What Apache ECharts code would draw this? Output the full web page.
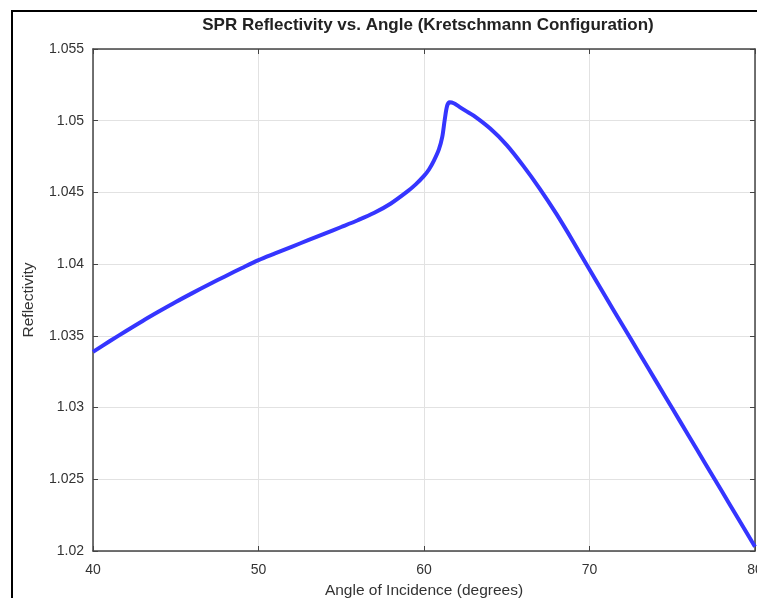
<!DOCTYPE html>
<html>
<head>
<meta charset="utf-8">
<style>
  html, body { margin: 0; padding: 0; background: #fff; }
  #chart { width: 757px; height: 598px; }
</style>
<script src="https://cdn.jsdelivr.net/npm/echarts@6/dist/echarts.min.js"></script>
</head>
<body>
<div id="chart"></div>
<script>
  // angle of incidence (degrees)
  const angles = [
    40, 41, 42, 43, 44, 45, 46, 47, 48, 49,
    50, 51, 52, 53, 54, 55, 56, 57, 58, 59,
    59.5, 60, 60.3, 60.6, 60.9, 61.1, 61.25, 61.4, 61.55, 61.8,
    62.1, 62.5, 63, 64, 65, 66, 67, 68, 69, 70,
    71, 72, 73, 74, 75, 76, 77, 78, 79, 80
  ];
  // reflectivity
  const reflectivity = [
    1.03388, 1.03462, 1.03534, 1.03604, 1.03671, 1.03736, 1.03798, 1.03858, 1.03916, 1.03973,
    1.04028, 1.04075, 1.04121, 1.04167, 1.04213, 1.04259, 1.04306, 1.04358, 1.04423, 1.04507,
    1.04556, 1.04615, 1.04660, 1.04722, 1.04800, 1.04885, 1.05005, 1.05105, 1.05128, 1.05122,
    1.05100, 1.05070, 1.05035, 1.04945, 1.04830, 1.04685, 1.04525, 1.04350, 1.04160, 1.03962,
    1.03767, 1.03574, 1.03381, 1.03188, 1.02995, 1.02802, 1.02609, 1.02416, 1.02223, 1.02030
  ];
  const xTicks = [40, 50, 60, 70, 80];
  const yTicks = [1.02, 1.025, 1.03, 1.035, 1.04, 1.045, 1.05, 1.055];

  const points = angles.map((a, i) => [a, reflectivity[i]]);

  const axisColor = '#444';
  const font = 'Liberation Sans';
  const labelFont = { color: '#333', fontSize: 14, fontFamily: font };
  const nameFont = { color: '#333', fontSize: 15.5, fontFamily: font };

  const chart = echarts.init(document.getElementById('chart'));

  chart.setOption({
    animation: false,
    backgroundColor: '#fff',
    title: {
      text: 'SPR Reflectivity vs. Angle (Kretschmann Configuration)',
      left: 423,
      textAlign: 'center',
      top: 12,
      textStyle: { fontSize: 17, fontWeight: 'bold', color: '#222', fontFamily: font }
    },
    graphic: [{
      type: 'rect',
      shape: { x: 12, y: 11, width: 800, height: 700 },
      style: { fill: 'none', stroke: '#000', lineWidth: 2 },
      silent: true,
      z: -1
    }],
    grid: { left: 93, top: 49, right: 2, bottom: 47, containLabel: false, outerBoundsMode: 'none' },
    xAxis: [{
      type: 'value',
      min: xTicks[0],
      max: xTicks[xTicks.length - 1],
      interval: 10,
      name: 'Angle of Incidence (degrees)',
      nameLocation: 'middle',
      nameGap: 32,
      nameTextStyle: nameFont,
      axisLine: { show: true, lineStyle: { color: axisColor, width: 1.5 } },
      axisTick: { show: true, inside: true, length: 5, lineStyle: { color: axisColor } },
      axisLabel: Object.assign({ margin: 12 }, labelFont),
      splitLine: { show: true, lineStyle: { color: '#e2e2e2', width: 1 } }
    }, {
      type: 'value',
      position: 'top',
      min: xTicks[0],
      max: xTicks[xTicks.length - 1],
      interval: 10,
      axisLine: { show: true, lineStyle: { color: axisColor, width: 1.5 } },
      axisTick: { show: true, inside: true, length: 5, lineStyle: { color: axisColor } },
      axisLabel: { show: false },
      splitLine: { show: false }
    }],
    yAxis: [{
      type: 'value',
      min: yTicks[0],
      max: yTicks[yTicks.length - 1],
      interval: 0.005,
      name: 'Reflectivity',
      nameLocation: 'middle',
      nameGap: 56,
      nameTextStyle: nameFont,
      axisLine: { show: true, lineStyle: { color: axisColor, width: 1.5 } },
      axisTick: { show: true, inside: true, length: 5, lineStyle: { color: axisColor } },
      axisLabel: Object.assign({ margin: 9, formatter: v => +v.toFixed(3) + '' }, labelFont),
      splitLine: { show: true, lineStyle: { color: '#e2e2e2', width: 1 } }
    }, {
      type: 'value',
      position: 'right',
      min: yTicks[0],
      max: yTicks[yTicks.length - 1],
      interval: 0.005,
      axisLine: { show: true, lineStyle: { color: axisColor, width: 1.5 } },
      axisTick: { show: true, inside: true, length: 5, lineStyle: { color: axisColor } },
      axisLabel: { show: false },
      splitLine: { show: false }
    }],
    series: [{
      type: 'line',
      data: points,
      showSymbol: false,
      smooth: 0.3,
      lineStyle: { color: '#3535ff', width: 4, join: 'round' },
      clip: false
    }]
  });
</script>
</body>
</html>
